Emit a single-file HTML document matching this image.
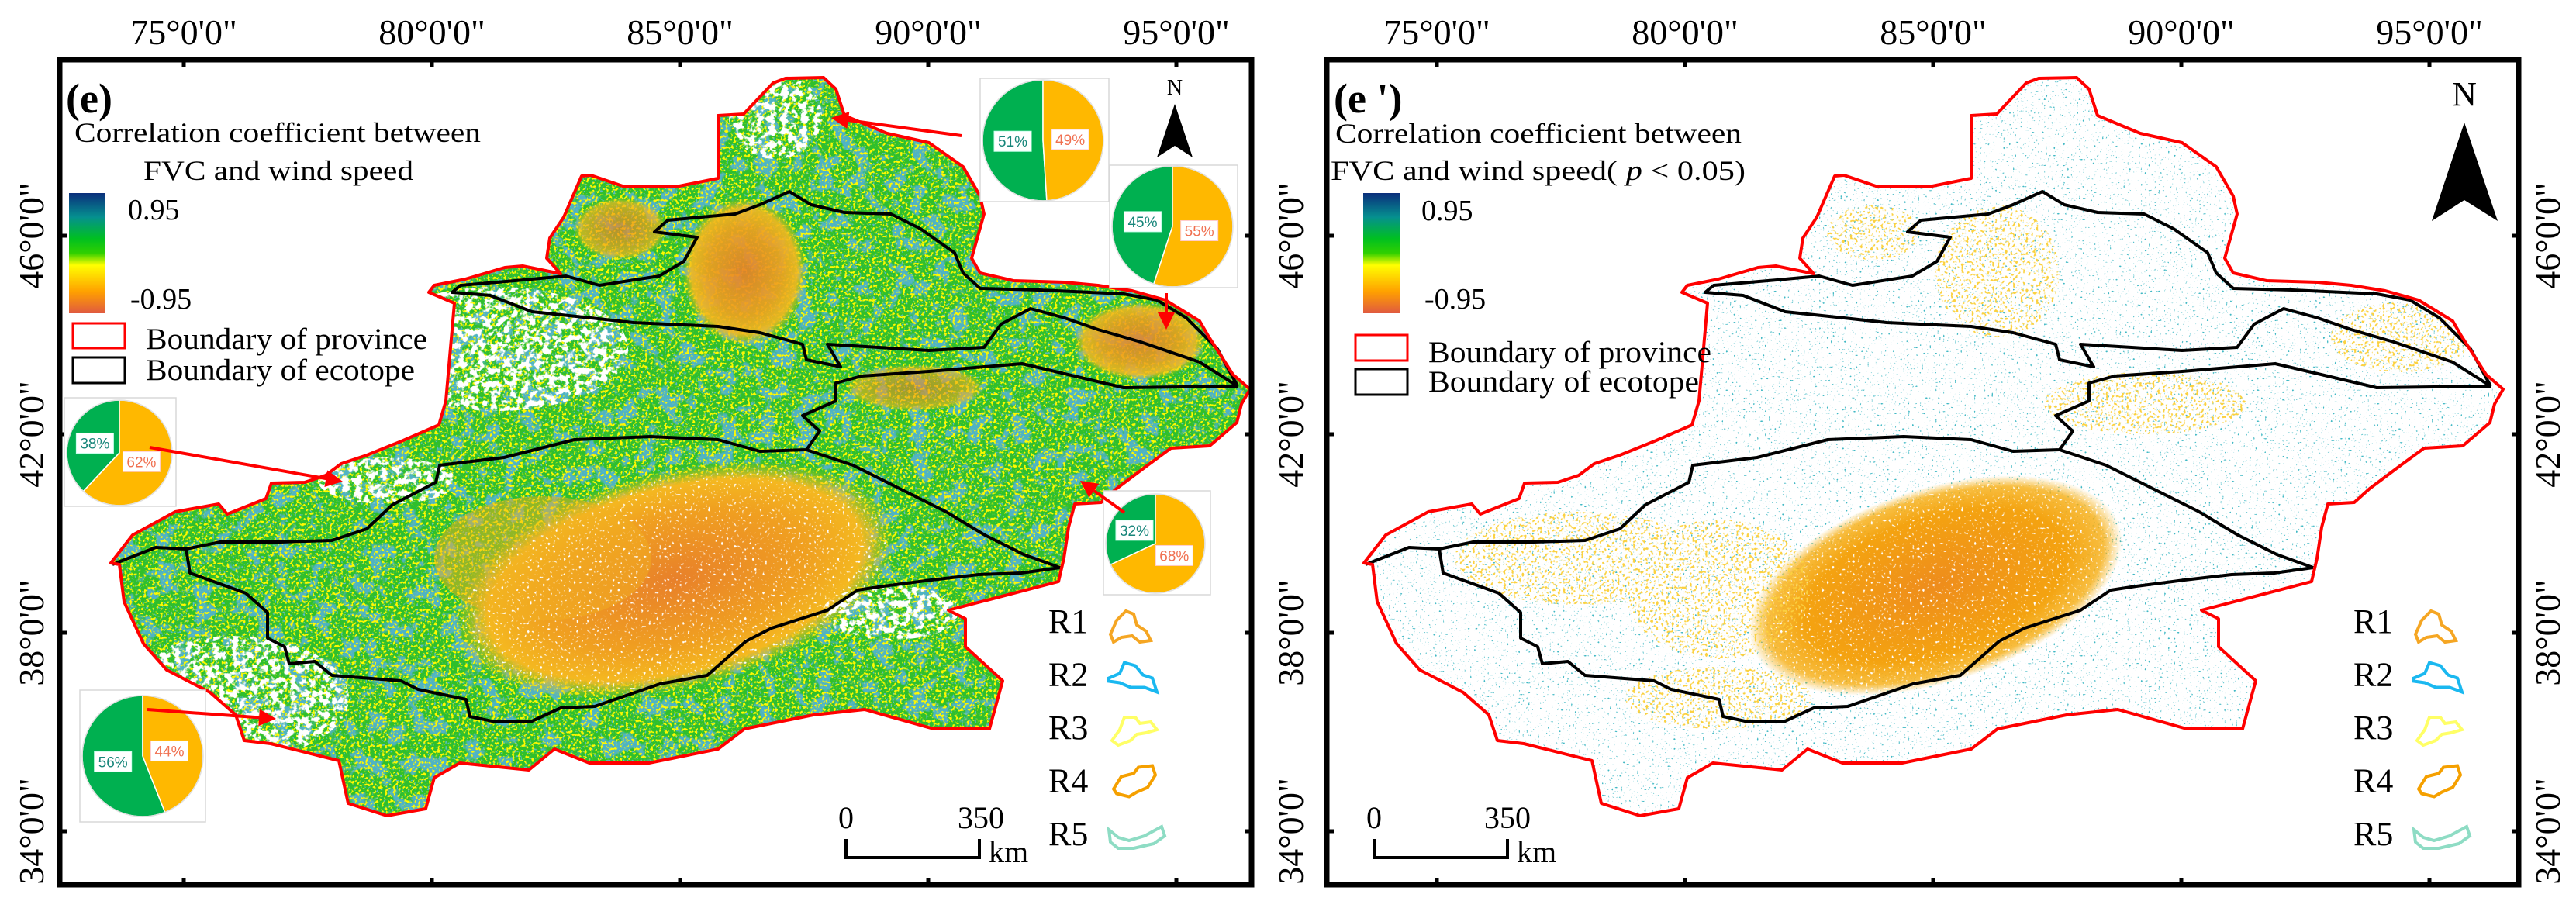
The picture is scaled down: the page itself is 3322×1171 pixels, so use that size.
<!DOCTYPE html>
<html><head><meta charset="utf-8"><style>
html,body{margin:0;padding:0;background:#fff;}
svg{display:block;font-family:"Liberation Serif",serif;}
</style></head><body>
<svg id="fig" width="3322" height="1171" viewBox="0 0 3322 1171" xmlns="http://www.w3.org/2000/svg">
<defs>
  <linearGradient id="cbar" x1="0" y1="0" x2="0" y2="1">
    <stop offset="0" stop-color="#0b2f7c"/><stop offset="0.2" stop-color="#05908f"/>
    <stop offset="0.38" stop-color="#00c020"/><stop offset="0.5" stop-color="#30d000"/>
    <stop offset="0.6" stop-color="#ffff00"/><stop offset="0.82" stop-color="#ffa000"/>
    <stop offset="1" stop-color="#e05a40"/>
  </linearGradient>
  <radialGradient id="orgG"><stop offset="0" stop-color="#e8802a"/><stop offset="0.6" stop-color="#f0a020"/><stop offset="0.85" stop-color="#f4b820"/><stop offset="1" stop-color="#f4c020" stop-opacity="0"/></radialGradient>
  <radialGradient id="orgR"><stop offset="0" stop-color="#ee8c1c"/><stop offset="0.7" stop-color="#f4a310"/><stop offset="0.9" stop-color="#f6ad10" stop-opacity="0.8"/><stop offset="1" stop-color="#f6b010" stop-opacity="0"/></radialGradient>
  <filter id="fY" x="0" y="0" width="1" height="1"><feTurbulence type="fractalNoise" baseFrequency="0.28" numOctaves="2" seed="2"/><feColorMatrix values="0 0 0 0 1  0 0 0 0 0.95  0 0 0 0 0  9 0 0 0 -4.9"/><feComposite in2="SourceGraphic" operator="in"/></filter>
  <filter id="fB" x="0" y="0" width="1" height="1"><feTurbulence type="fractalNoise" baseFrequency="0.04" numOctaves="4" seed="7"/><feColorMatrix values="0 0 0 0 0.08  0 0 0 0 0.45  0 0 0 0 0.55  10 0 0 0 -5.3"/><feComposite in2="SourceGraphic" operator="in"/></filter>
  <filter id="fB2" x="0" y="0" width="1" height="1"><feTurbulence type="fractalNoise" baseFrequency="0.35" numOctaves="1" seed="17"/><feColorMatrix values="0 0 0 0 0.1  0 0 0 0 0.5  0 0 0 0 0.55  10 0 0 0 -6.0"/><feComposite in2="SourceGraphic" operator="in"/></filter>
  <filter id="fW" x="0" y="0" width="1" height="1"><feTurbulence type="fractalNoise" baseFrequency="0.12" numOctaves="3" seed="11"/><feColorMatrix values="0 0 0 0 1  0 0 0 0 1  0 0 0 0 1  9 0 0 0 -4.3"/><feComposite in2="SourceGraphic" operator="in"/></filter>
  <filter id="fWg" x="0" y="0" width="1" height="1"><feTurbulence type="fractalNoise" baseFrequency="0.3" numOctaves="1" seed="21"/><feColorMatrix values="0 0 0 0 1  0 0 0 0 1  0 0 0 0 1  9 0 0 0 -5.6"/><feComposite in2="SourceGraphic" operator="in"/></filter>
  <filter id="fO2" x="0" y="0" width="1" height="1"><feTurbulence type="fractalNoise" baseFrequency="0.3" numOctaves="1" seed="9"/><feColorMatrix values="0 0 0 0 0.97  0 0 0 0 0.64  0 0 0 0 0.05  10 0 0 0 -5.6"/><feComposite in2="SourceGraphic" operator="in"/></filter>
  <filter id="fT" x="0" y="0" width="1" height="1"><feTurbulence type="fractalNoise" baseFrequency="0.4" numOctaves="1" seed="13"/><feColorMatrix values="0 0 0 0 0.05  0 0 0 0 0.48  0 0 0 0 0.55  12 0 0 0 -7.9"/><feComposite in2="SourceGraphic" operator="in"/></filter>
  <path id="prov" d="M143,726 L171,690 226,660 282,650 293,663 343,643 350,623 393,622 420,613 440,598 473,587 520,568 566,548 575,517 586,391 553,377 560,368 600,360 651,345 674,343 723,353 705,333 709,307 727,280 750,227 762,226 806,241 871,241 926,230 926,149 959,147 997,107 1013,101 1062,100 1078,115 1089,149 1144,172 1198,184 1242,215 1264,253 1269,276 1253,333 1264,352 1307,362 1373,364 1416,368 1460,375 1503,387 1547,414 1558,433 1590,483 1612,502 1601,521 1595,545 1560,575 1510,578 1480,600 1440,630 1420,648 1386,650 1378,680 1372,720 1365,750 1223,787 1245,798 1245,834 1293,878 1276,940 1204,940 1115,915 1049,922 960,940 926,966 837,984 760,984 715,966 682,993 593,984 560,1003 549,1043 499,1052 449,1036 437,981 349,959 315,955 304,922 271,893 215,864 185,830 160,776 154,728 Z"/>
  <clipPath id="provClip"><use href="#prov"/></clipPath>
  <g id="ecoLines" fill="none" stroke="#000" stroke-width="4" stroke-linejoin="round">
    <polyline points="1596,498 1547,467 1471,441 1416,425 1373,410 1329,398 1291,418 1269,448 1198,452 1133,448 1067,444 1084,473 1040,464 1035,444 980,429 926,421 817,416 762,410 686,402 632,381 583,377 594,368 664,362 730,356 773,368 850,356 882,337 899,306 844,299 861,284 948,276 980,264 1018,247 1046,264 1089,274 1149,276 1187,295 1231,326 1242,352 1264,372 1340,374 1449,379 1492,387 1530,410 1570,450 1596,498"/>
    <polyline points="1596,498 1449,500 1318,469 1198,479 1111,485 1078,494 1078,517 1035,536 1057,556 1040,580 980,582 926,567 839,563 741,567 650,590 567,600 562,622 506,651 473,682 428,697 362,699 284,699 240,708 201,706 145,728"/>
    <polyline points="240,708 245,739 317,765 345,790 345,823 367,834 373,856 406,853 428,871 517,878 539,889 601,902 606,924 639,931 684,931 723,913 767,911 851,882 912,871 962,827 995,810 1067,787 1106,761 1139,756 1201,748 1262,741 1317,739 1367,732"/>
    <polyline points="1040,580 1100,600 1160,630 1220,660 1270,690 1320,715 1367,732"/>
  </g>
</defs>

<!-- ================= LEFT PANEL ================= -->
<g>
  <g clip-path="url(#provClip)">
    <rect x="100" y="80" width="1540" height="1000" fill="#2fbf2c"/>
    <rect x="100" y="80" width="1540" height="1000" fill="#000" filter="url(#fB)"/>
    <rect x="100" y="80" width="1540" height="1000" fill="#000" filter="url(#fB2)"/>
    <rect x="100" y="80" width="1540" height="1000" fill="#000" filter="url(#fY)"/>
    <ellipse cx="870" cy="748" rx="290" ry="140" transform="rotate(-14 870 748)" fill="url(#orgG)"/>
    <ellipse cx="700" cy="720" rx="140" ry="80" fill="#f2b020" opacity="0.5"/>
    <ellipse cx="960" cy="350" rx="80" ry="95" fill="url(#orgG)" opacity="0.9"/>
    <ellipse cx="800" cy="295" rx="60" ry="40" fill="url(#orgG)" opacity="0.7"/>
    <ellipse cx="1470" cy="440" rx="85" ry="50" fill="url(#orgG)" opacity="0.85"/>
    <ellipse cx="1180" cy="500" rx="90" ry="30" fill="url(#orgG)" opacity="0.6"/>
    <g filter="url(#fWg)">
      <ellipse cx="870" cy="748" rx="280" ry="130" transform="rotate(-14 870 748)" fill="#000"/>
    </g>
    <g filter="url(#fW)">
      <ellipse cx="640" cy="450" rx="170" ry="80" fill="#000"/>
      <ellipse cx="300" cy="900" rx="150" ry="80" fill="#000"/>
      <ellipse cx="1000" cy="150" rx="60" ry="55" fill="#000"/>
      <ellipse cx="1150" cy="790" rx="90" ry="35" fill="#000"/>
      <ellipse cx="500" cy="620" rx="90" ry="30" fill="#000"/>
    </g>
  </g>
  <use href="#ecoLines"/>
  <use href="#prov" fill="none" stroke="#ff0000" stroke-width="4" stroke-linejoin="round"/>
</g>

<!-- ================= RIGHT PANEL ================= -->
<g>
  <g transform="translate(1616,0)">
    <g clip-path="url(#provClip)">
      <rect x="100" y="80" width="1540" height="1000" fill="#fff"/>
      <rect x="100" y="80" width="1540" height="1000" fill="#000" filter="url(#fT)"/>
      <ellipse cx="880" cy="755" rx="250" ry="125" transform="rotate(-18 880 755)" fill="url(#orgR)"/>
      <g filter="url(#fWg)">
        <ellipse cx="880" cy="755" rx="250" ry="125" transform="rotate(-18 880 755)" fill="#000"/>
      </g>
      <g filter="url(#fO2)">
        <ellipse cx="960" cy="350" rx="80" ry="85" fill="#000"/>
        <ellipse cx="1480" cy="435" rx="90" ry="45" fill="#000"/>
        <ellipse cx="420" cy="720" rx="160" ry="60" fill="#000"/>
        <ellipse cx="1150" cy="520" rx="130" ry="40" fill="#000"/>
        <ellipse cx="800" cy="300" rx="60" ry="35" fill="#000"/>
        <ellipse cx="600" cy="900" rx="120" ry="40" fill="#000"/>
        <ellipse cx="600" cy="760" rx="120" ry="90" fill="#000"/>
      </g>
    </g>
    <use href="#ecoLines"/>
    <use href="#prov" fill="none" stroke="#ff0000" stroke-width="4" stroke-linejoin="round"/>
  </g>
</g>

<!-- frames -->
<rect x="77" y="77" width="1537" height="1064" fill="none" stroke="#000" stroke-width="7"/>
<rect x="1711" y="77" width="1537" height="1064" fill="none" stroke="#000" stroke-width="7"/>
<g id="axes"></g>

<!-- left legend -->
<text x="85" y="145" font-size="54" font-weight="bold">(e)</text>
<text x="96" y="183" font-size="36" textLength="524" lengthAdjust="spacingAndGlyphs">Correlation coefficient between</text>
<text x="185" y="232" font-size="36" textLength="348" lengthAdjust="spacingAndGlyphs">FVC and wind speed</text>
<rect x="89" y="249" width="47" height="155" fill="url(#cbar)"/>
<text x="165" y="283" font-size="38">0.95</text>
<text x="168" y="398" font-size="38">-0.95</text>
<rect x="94" y="417" width="67" height="32" fill="none" stroke="#ff0000" stroke-width="3"/>
<text x="188" y="450" font-size="39" textLength="363" lengthAdjust="spacingAndGlyphs">Boundary of province</text>
<rect x="94" y="461" width="67" height="33" fill="none" stroke="#000" stroke-width="3"/>
<text x="188" y="490" font-size="39" textLength="347" lengthAdjust="spacingAndGlyphs">Boundary of ecotope</text>

<!-- right legend -->
<text x="1720" y="145" font-size="54" font-weight="bold">(e ')</text>
<text x="1722" y="184" font-size="36" textLength="524" lengthAdjust="spacingAndGlyphs">Correlation coefficient between</text>
<text x="1716" y="232" font-size="36" textLength="535" lengthAdjust="spacingAndGlyphs">FVC and wind speed( <tspan font-style="italic">p</tspan> &lt; 0.05)</text>
<rect x="1758" y="249" width="47" height="155" fill="url(#cbar)"/>
<text x="1833" y="284" font-size="38">0.95</text>
<text x="1837" y="398" font-size="38">-0.95</text>
<rect x="1748" y="432" width="67" height="33" fill="none" stroke="#ff0000" stroke-width="3"/>
<text x="1842" y="467" font-size="39" textLength="365" lengthAdjust="spacingAndGlyphs">Boundary of province</text>
<rect x="1748" y="476" width="67" height="33" fill="none" stroke="#000" stroke-width="3"/>
<text x="1842" y="505" font-size="39" textLength="349" lengthAdjust="spacingAndGlyphs">Boundary of ecotope</text>

<!-- north arrows -->
<g>
  <text x="1515" y="122" font-size="28" text-anchor="middle">N</text>
  <polygon points="1515,134 1492,203 1515,188 1538,203" fill="#000"/>
</g>
<g>
  <text x="3178" y="136" font-size="44" text-anchor="middle">N</text>
  <polygon points="3178,158 3136,285 3178,258 3221,285" fill="#000"/>
</g>

<!-- scale bars -->
<g>
  <text x="1091" y="1068" font-size="40" text-anchor="middle">0</text>
  <text x="1265" y="1068" font-size="40" text-anchor="middle">350</text>
  <polyline points="1091,1082 1091,1106 1263,1106 1263,1082" fill="none" stroke="#000" stroke-width="4"/>
  <text x="1275" y="1112" font-size="40">km</text>
</g>
<g>
  <text x="1772" y="1068" font-size="40" text-anchor="middle">0</text>
  <text x="1944" y="1068" font-size="40" text-anchor="middle">350</text>
  <polyline points="1772,1082 1772,1106 1944,1106 1944,1082" fill="none" stroke="#000" stroke-width="4"/>
  <text x="1956" y="1112" font-size="40">km</text>
</g>

<g id="regions"></g>
<g id="pies"></g>
</svg>

<script>
const NS='http://www.w3.org/2000/svg';
// ---- data ----
const lonLabels=['75°0\'0"','80°0\'0"','85°0\'0"','90°0\'0"','95°0\'0"'];
const lonValues=[75,80,85,90,95];
const latLabels=['46°0\'0"','42°0\'0"','38°0\'0"','34°0\'0"'];
const latValues=[46,42,38,34];
const pieGreen=[51,45,38,32,56];
const pieOrange=[49,55,62,68,44];
const regionNames=['R1','R2','R3','R4','R5'];
const regionColors=['#f5a623','#1ab8f0','#ffff66','#f5a000','#8edcc4'];

// ---- axis functions ----
const xLon=(lon,off)=>237+(lon-75)*64+off;
const yLat=(lat)=>304+(46-lat)*64;

function mk(tag,attrs,parent){const e=document.createElementNS(NS,tag);for(const k in attrs)e.setAttribute(k,attrs[k]);parent.appendChild(e);return e;}
const axes=document.getElementById('axes');
[0,1616].forEach((off,pi)=>{
  const fx0=pi?1711:77, fx1=pi?3248:1614;
  lonValues.forEach((v,i)=>{
    const x=xLon(v,off);
    const t=mk('text',{x:x,y:57,'font-size':46,'text-anchor':'middle'},axes);
    t.textContent=lonLabels[i];
    
    
    mk('line',{x1:x,y1:77,x2:x,y2:86,stroke:'#000','stroke-width':5},axes);
    mk('line',{x1:x,y1:1141,x2:x,y2:1132,stroke:'#000','stroke-width':5},axes);
  });
  latValues.forEach((v,i)=>{
    const y=yLat(v);
    mk('line',{x1:fx0,y1:y,x2:fx0+9,y2:y,stroke:'#000','stroke-width':5},axes);
    mk('line',{x1:fx1,y1:y,x2:fx1-9,y2:y,stroke:'#000','stroke-width':5},axes);
    const xs=pi?[3285]:[40,1664];
    xs.forEach(xx=>{
      const t=mk('text',{x:xx+16,y:y,'font-size':46,'text-anchor':'middle',transform:`rotate(-90 ${xx+16} ${y})`},axes);
      t.textContent=latLabels[i];
      
      
    });
  });
});

// ---- region legend (R1-R5) ----
const rg=document.getElementById('regions');
const shapes=[
 'M0,0 l12,-12 l10,4 l4,14 l12,8 l6,12 l-14,2 l-10,-8 l-14,2 l-10,6 l-4,-10 z',
 'M-10,6 l14,-6 l6,-14 l14,4 l10,12 l12,4 l6,18 l-16,-6 l-18,0 l-14,-6 l-14,-2 z',
 'M-6,18 l10,-14 l6,-16 l14,0 l6,8 l14,-2 l8,10 l-14,4 l-12,2 l-8,8 l-16,6 z',
 'M-4,12 l10,-16 l16,-4 l6,-8 l18,-2 l4,12 l-10,16 l-14,6 l-10,6 l-16,-4 z',
 'M-10,-4 l12,10 l14,4 l20,-6 l22,-12 l4,12 l-14,10 l-26,6 l-20,0 l-10,-8 z'
];
[0,1634].forEach(off=>{
  regionNames.forEach((n,i)=>{
    const by=816+i*68.5;
    const t=mk('text',{x:1352+off+(off?49:0),y:by,'font-size':44},rg);
    t.textContent=n;
    
    
    const p=mk('path',{d:shapes[i],transform:`translate(${1420+off+(off?49:0)+20},${by-16})`,fill:'none',stroke:regionColors[i],'stroke-width':4},rg);
    
    
  });
});

// ---- pies ----
const pieBox=[[1264,101,166,159],[1431,213,165,158],[83,513,144,140],[1423,633,138,134],[103,890,162,170]];
const pieC=[[1345,181,78],[1512,292,78],[154,584,68],[1490,701,64],[184,975,78]];
const arrows=[[1240,175,1072,152],[1504,378,1504,425],[193,577,442,621],[1450,661,1393,620],[190,915,356,927]];
const pg=document.getElementById('pies');
function pt(cx,cy,r,deg){const a=(deg-90)*Math.PI/180;return [cx+r*Math.cos(a),cy+r*Math.sin(a)];}
pieGreen.forEach((g,i)=>{
  const [bx,by,bw,bh]=pieBox[i];const [cx,cy,r]=pieC[i];
  const grp=mk('g',{},pg);
  
  
  mk('rect',{x:bx,y:by,width:bw,height:bh,fill:'#fff',stroke:'#d8d8d8','stroke-width':1.5},grp);
  const total=g+pieOrange[i];
  const ga=360*g/total;
  const s=pt(cx,cy,r,0), e=pt(cx,cy,r,-ga);
  const large=ga>180?1:0, largeO=(360-ga)>180?1:0;
  const gs=mk('path',{d:`M${cx},${cy} L${s[0]},${s[1]} A${r},${r} 0 ${large} 0 ${e[0]},${e[1]} Z`,fill:'#00b050',stroke:'#fff','stroke-width':1.5},grp);
  
  
  const os=mk('path',{d:`M${cx},${cy} L${s[0]},${s[1]} A${r},${r} 0 ${largeO} 1 ${e[0]},${e[1]} Z`,fill:'#ffb800',stroke:'#fff','stroke-width':1.5},grp);
  
  
  mk('circle',{cx:cx,cy:cy,r:r,fill:'none',stroke:'#e0e0e0','stroke-width':1.5},grp);
  const gl=pt(cx,cy,r*0.5,-ga/2), ol=pt(cx,cy,r*0.45,(360-ga)/2);
  [[gl,g,'#17857a'],[ol,pieOrange[i],'#f07050']].forEach(([p,v,c])=>{
    mk('rect',{x:p[0]-24,y:p[1]-13,width:48,height:26,fill:'#fff',stroke:c==='#17857a'?'#cfe':'#fcc','stroke-width':1},grp);
    const t=mk('text',{x:p[0],y:p[1]+7,'font-size':19,'text-anchor':'middle',fill:c,'font-family':'Liberation Sans, sans-serif'},grp);
    t.textContent=v+'%';
    
    
  });
  const [x1,y1,x2,y2]=arrows[i];
  const ang=Math.atan2(y2-y1,x2-x1);
  const hx=x2-22*Math.cos(ang), hy=y2-22*Math.sin(ang);
  mk('line',{x1:x1,y1:y1,x2:hx,y2:hy,stroke:'#ff0000','stroke-width':4},grp);
  const px=-Math.sin(ang)*11, py=Math.cos(ang)*11;
  const ar=mk('polygon',{points:`${x2},${y2} ${hx+px},${hy+py} ${hx-px},${hy-py}`,fill:'#ff0000'},grp);
  
  
});
</script>
</body></html>
